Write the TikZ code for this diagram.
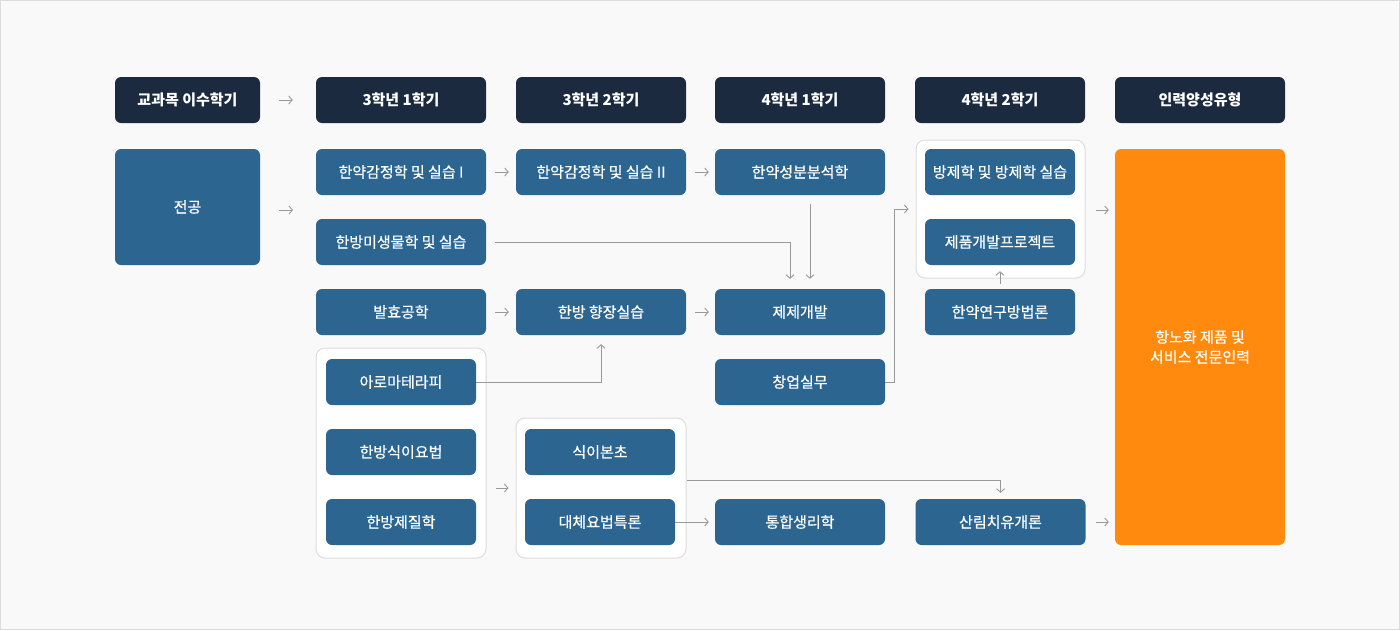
\documentclass[tikz,border=0pt]{standalone}
\usepackage{fontspec}
\setmainfont{Noto Sans CJK KR}
\newfontfamily\medfont{Noto Sans CJK KR}[FakeBold=0.6]
\usetikzlibrary{arrows.meta}
\definecolor{bgc}{HTML}{F9F9F9}
\definecolor{frame}{HTML}{DDDDDD}
\definecolor{navy}{HTML}{1C2A40}
\definecolor{crsblue}{HTML}{2B6590}
\definecolor{orng}{HTML}{FF8A0E}
\definecolor{arrg}{HTML}{999999}
\tikzset{
  base/.style={rounded corners=6pt, text=white, inner sep=0pt, minimum height=46pt, align=center, font=\medfont\fontsize{15}{20}\selectfont},
  hdr/.style={base, fill=navy, minimum width=170pt, font=\fontsize{15}{20}\selectfont\bfseries},
  crs/.style={base, fill=crsblue, minimum width=170pt},
  inner/.style={crs, minimum width=150pt},
  grp/.style={draw=frame, fill=white, rounded corners=9pt, line width=1pt, inner sep=0pt},
  arr/.style={draw=arrg, line width=0.9pt, -{Straight Barb[length=3.5pt,width=8pt]}},
}
\begin{document}
\begin{tikzpicture}[x=1pt,y=-1pt]
\fill[bgc] (0,0) rectangle (1400,630);
\draw[frame, line width=1pt] (0.5,0.5) rectangle (1399.5,629.5);
% headers
\node[hdr, minimum width=145pt] (h0) at (187.5,100) {교과목 이수학기};
\node[hdr] (h1) at (401,100) {3학년 1학기};
\node[hdr] (h2) at (601,100) {3학년 2학기};
\node[hdr] (h3) at (800,100) {4학년 1학기};
\node[hdr] (h4) at (1000,100) {4학년 2학기};
\node[hdr] (h5) at (1200,100) {인력양성유형};
% groups
\node[grp, minimum width=170pt, minimum height=210pt] (g1) at (401,453) {};
\node[grp, minimum width=170pt, minimum height=140pt] (g2) at (601,488) {};
\node[grp, minimum width=169pt, minimum height=138pt] (g4) at (1000.5,209) {};
% major
\node[crs, minimum width=145pt, minimum height=116pt] (major) at (187.5,207) {전공};
% col1
\node[crs] (a1) at (401,172) {한약감정학 및 실습 I};
\node[crs] (b1) at (401,242) {한방미생물학 및 실습};
\node[crs] (c1) at (401,312) {발효공학};
\node[inner] (d1) at (401,382) {아로마테라피};
\node[inner] (e1) at (401,452) {한방식이요법};
\node[inner] (f1) at (401,522) {한방제질학};
% col2
\node[crs] (a2) at (601,172) {한약감정학 및 실습 II};
\node[crs] (c2) at (601,312) {한방 향장실습};
\node[inner] (e2) at (600,452) {식이본초};
\node[inner] (f2) at (600,522) {대체요법특론};
% col3
\node[crs] (a3) at (800,172) {한약성분분석학};
\node[crs] (c3) at (800,312) {제제개발};
\node[crs] (d3) at (800,382) {창업실무};
\node[crs] (f3) at (800,522) {통합생리학};
% col4
\node[inner] (a4) at (1000,172) {방제학 및 방제학 실습};
\node[inner] (b4) at (1000,242) {제품개발프로젝트};
\node[inner] (c4) at (1000,312) {한약연구방법론};
\node[crs] (f4) at (1000.5,522) {산림치유개론};
% outcome
\node[base, fill=orng, minimum width=170pt, minimum height=396pt] (out) at (1200,347) {항노화 제품 및\\서비스 전문인력};
% short arrows
\draw[arr, shorten <=19pt, shorten >=23pt] (h0) -- (h1);
\coordinate (mj) at (293,210);
\draw[arr] (mj -| major.east) ++(19,0) -- (mj);
\draw[arr, shorten <=9pt, shorten >=7pt] (a1) -- (a2);
\draw[arr, shorten <=9pt, shorten >=6pt] (a2) -- (a3);
\draw[arr, shorten <=9pt, shorten >=7pt] (c1) -- (c2);
\draw[arr, shorten <=9pt, shorten >=6pt] (c2) -- (c3);
\draw[arr, shorten <=9pt, shorten >=7pt] (g1.east |- g2.west) -- (g2.west);
\draw[arr, shorten >=6pt] (f2.east) -- (f3.west);
\draw[arr, shorten <=10pt, shorten >=6pt] (g4.east |- 0,210) -- (out.west |- 0,210);
\draw[arr, shorten <=10pt, shorten >=6pt] (f4.east) -- (out.west |- f4.east);
% routed connectors
\draw[arr, shorten <=9pt, shorten >=10pt] (b1.east) -| ([xshift=-10pt]c3.north);
\draw[arr, shorten <=9pt, shorten >=10pt] ([xshift=10pt]a3.south) -- ([xshift=10pt]c3.north);
\draw[arr, shorten >=9pt] (d1.east) -| (c2.south);
\draw[arr, shorten >=7pt] (d3.east) -- ++(9,0) |- (g4.west);
\draw[arr, shorten >=6pt] ([yshift=8pt]g2.east) -| (f4.north);
\draw[arr, shorten <=5pt, shorten >=6pt] (c4.north) -- (b4.south);
\end{tikzpicture}
\end{document}
